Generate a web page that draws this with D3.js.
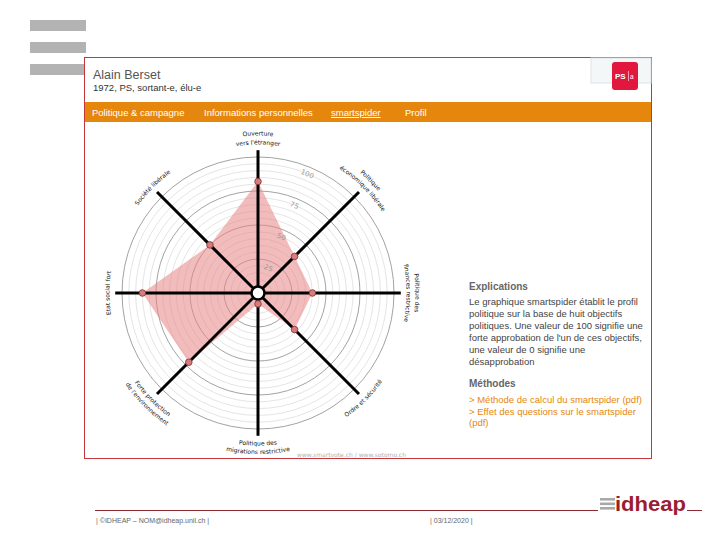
<!DOCTYPE html>
<html>
<head>
<meta charset="utf-8">
<script src="https://cdn.jsdelivr.net/npm/d3@7"></script>
<style>
  body { margin: 0; background: #fff; }
  svg { display: block; }
</style>
</head>
<body>
<svg id="chart" width="720" height="540"></svg>
<script>
// axes of the spider, clockwise from the top
const axisNames = [
  "Ouverture vers l'étranger",
  "Politique économique libérale",
  "Politique des finances restrictive",
  "Ordre et sécurité",
  "Politique des migrations restrictive",
  "Forte protection de l'environnement",
  "Etat social fort",
  "Société libérale"
];
const axisLabelLines = [
  ["Ouverture", "vers l'étranger"],
  ["Politique", "économique libérale"],
  ["Politique des", "finances restrictive"],
  ["Ordre et sécurité"],
  ["Politique des", "migrations restrictive"],
  ["Forte protection", "de l'environnement"],
  ["Etat social fort"],
  ["Société libérale"]
];
const bersetValues = [82, 38, 40, 38, 8, 72, 85, 50];
const ringTicks = [25, 50, 75, 100];
const minorRings = d3.range(5, 101, 5);

const menuItems = ["Politique & campagne", "Informations personnelles", "smartspider", "Profil"];
const explanationLines = [
  "Le graphique smartspider établit le profil",
  "politique sur la base de huit objectifs",
  "politiques. Une valeur de 100 signifie une",
  "forte approbation de l'un de ces objectifs,",
  "une valeur de 0 signifie une",
  "désapprobation"
];
const methodLinks = ["> Méthode de calcul du smartspider (pdf)", "> Effet des questions sur le smartspider", "(pdf)"];

const svg = d3.select('#chart');
const orange = '#e5870c';
const sans = "'Liberation Sans', Arial, sans-serif";

// slide decoration
svg.selectAll('rect.deco')
  .data([20, 42, 64])
  .join('rect')
  .attr('x', 30).attr('y', d => d)
  .attr('width', 56).attr('height', 11)
  .attr('fill', '#b3b3b3');

// screenshot frame
svg.append('rect')
  .attr('x', 84.5).attr('y', 57.5)
  .attr('width', 567).attr('height', 401)
  .attr('fill', '#fff')
  .attr('stroke', '#c3373c')
  .attr('stroke-width', 1);

svg.append('text')
  .attr('x', 93).attr('y', 79)
  .attr('font-family', sans).attr('font-size', 12.5)
  .attr('fill', '#555')
  .text('Alain Berset');
svg.append('text')
  .attr('x', 93).attr('y', 91)
  .attr('font-family', sans).attr('font-size', 9.5)
  .attr('fill', '#333')
  .text('1972, PS, sortant-e, élu-e');

// PS logo
svg.append('rect')
  .attr('x', 591).attr('y', 58).attr('width', 60).attr('height', 25)
  .attr('fill', '#f4f7f8').attr('stroke', '#dde3e6');
svg.append('rect')
  .attr('x', 612).attr('y', 62).attr('width', 26).attr('height', 28)
  .attr('rx', 3)
  .attr('fill', '#e1173d');
svg.append('text')
  .attr('x', 615).attr('y', 79)
  .attr('font-family', sans).attr('font-size', 8).attr('font-weight', 'bold')
  .attr('fill', '#fff')
  .text('PS');
svg.append('line')
  .attr('x1', 628.5).attr('x2', 628.5).attr('y1', 71).attr('y2', 81)
  .attr('stroke', '#fff').attr('stroke-width', 0.6);
svg.append('text')
  .attr('x', 630).attr('y', 79)
  .attr('font-family', sans).attr('font-size', 6.5)
  .attr('fill', '#fff')
  .text('a');

// menu bar
svg.append('rect')
  .attr('x', 85).attr('y', 102).attr('width', 566).attr('height', 20)
  .attr('fill', orange);
const menuX = [92, 204, 331, 405];
svg.selectAll('text.menu')
  .data(menuItems)
  .join('text')
  .attr('class', 'menu')
  .attr('x', (d, i) => menuX[i]).attr('y', 116)
  .attr('font-family', sans).attr('font-size', 9.5)
  .attr('fill', '#fff')
  .attr('text-decoration', d => d === 'smartspider' ? 'underline' : null)
  .text(d => d);

// spider chart
const cx = 258, cy = 293;
const r = d3.scaleLinear().domain([0, 100]).range([0, 136]);
const angle = d3.scalePoint().domain(axisNames).range([0, 2 * Math.PI * 7 / 8]);
const pt = (a, rad) => [cx + rad * Math.sin(a), cy - rad * Math.cos(a)];

const g = svg.append('g');

g.selectAll('circle.minor')
  .data(minorRings)
  .join('circle')
  .attr('cx', cx).attr('cy', cy)
  .attr('r', d => r(d))
  .attr('fill', 'none')
  .attr('stroke', d => ringTicks.includes(d) ? '#8a8a8a' : '#d2d2d2')
  .attr('stroke-width', d => ringTicks.includes(d) ? 0.8 : 0.6);

const polygon = d3.line()
  .x((d, i) => pt(angle(axisNames[i]), r(d))[0])
  .y((d, i) => pt(angle(axisNames[i]), r(d))[1])
  .curve(d3.curveLinearClosed);

g.append('path')
  .datum(bersetValues)
  .attr('d', polygon)
  .attr('fill', '#ea8585')
  .attr('fill-opacity', 0.55)
  .attr('stroke', 'none');

g.selectAll('text.ring')
  .data(ringTicks)
  .join('text')
  .attr('transform', d => {
    const p = pt(Math.PI / 8, r(d) - 7);
    return `translate(${p[0]},${p[1]}) rotate(22.5)`;
  })
  .attr('text-anchor', 'middle')
  .attr('dy', '0.35em')
  .attr('font-family', "'DejaVu Sans', sans-serif").attr('font-size', 7)
  .attr('fill', '#999')
  .text(d => d);

g.selectAll('line.axis')
  .data(axisNames)
  .join('line')
  .attr('x1', cx).attr('y1', cy)
  .attr('x2', d => pt(angle(d), r(105))[0])
  .attr('y2', d => pt(angle(d), r(105))[1])
  .attr('stroke', '#000')
  .attr('stroke-width', 3);

g.append('circle')
  .attr('cx', cx).attr('cy', cy).attr('r', 6.5)
  .attr('fill', '#fff').attr('stroke', '#000').attr('stroke-width', 2.5);

g.selectAll('circle.dot')
  .data(bersetValues)
  .join('circle')
  .attr('cx', (d, i) => pt(angle(axisNames[i]), r(d))[0])
  .attr('cy', (d, i) => pt(angle(axisNames[i]), r(d))[1])
  .attr('r', 3.3)
  .attr('fill', '#d97b7d')
  .attr('stroke', '#7d3234')
  .attr('stroke-width', 0.8);

// axis labels set on arcs
const defs = svg.append('defs');
axisNames.forEach((name, i) => {
  const a = angle(name);
  const lower = a > Math.PI / 2 + 0.01 && a < 3 * Math.PI / 2 - 0.01;
  axisLabelLines[i].forEach((line, j) => {
    let rad;
    if (lower) rad = 152.5 + j * 8.5;
    else rad = axisLabelLines[i].length === 2 ? 157.5 - j * 9 : 148.5;
    const span = 1.0;
    const s = pt(lower ? a + span : a - span, rad);
    const e = pt(lower ? a - span : a + span, rad);
    const id = `lab-${i}-${j}`;
    defs.append('path')
      .attr('id', id)
      .attr('d', `M${s[0]},${s[1]} A${rad},${rad} 0 0 ${lower ? 0 : 1} ${e[0]},${e[1]}`);
    svg.append('text')
      .attr('font-family', "'DejaVu Sans', sans-serif").attr('font-size', 6)
      .attr('fill', '#111')
      .append('textPath')
      .attr('href', `#${id}`)
      .attr('startOffset', '50%')
      .attr('text-anchor', 'middle')
      .text(line);
  });
});

svg.append('text')
  .attr('x', 297).attr('y', 457)
  .attr('font-family', "'DejaVu Sans', sans-serif").attr('font-size', 6)
  .attr('fill', '#b0b0b0')
  .text('www.smartvote.ch / www.sotomo.ch');

// explanation panel
svg.append('text')
  .attr('x', 469).attr('y', 290)
  .attr('font-family', sans).attr('font-size', 10).attr('font-weight', 'bold')
  .attr('fill', '#666')
  .text('Explications');
svg.selectAll('text.expl')
  .data(explanationLines)
  .join('text')
  .attr('x', 469).attr('y', (d, i) => 305 + i * 12)
  .attr('font-family', sans).attr('font-size', 9.5)
  .attr('fill', '#444')
  .text(d => d);
svg.append('text')
  .attr('x', 469).attr('y', 387)
  .attr('font-family', sans).attr('font-size', 10).attr('font-weight', 'bold')
  .attr('fill', '#666')
  .text('Méthodes');
svg.selectAll('text.link')
  .data(methodLinks)
  .join('text')
  .attr('x', 469).attr('y', (d, i) => 403 + i * 11.5)
  .attr('font-family', sans).attr('font-size', 9.5)
  .attr('fill', orange)
  .text(d => d);

// footer
const footRed = '#8c2a35';
svg.append('line')
  .attr('x1', 95).attr('x2', 598).attr('y1', 510.5).attr('y2', 510.5)
  .attr('stroke', footRed).attr('stroke-width', 1);
svg.append('line')
  .attr('x1', 687).attr('x2', 702).attr('y1', 510.5).attr('y2', 510.5)
  .attr('stroke', footRed).attr('stroke-width', 1);
svg.selectAll('rect.logo')
  .data([498, 502.5, 507])
  .join('rect')
  .attr('x', 600).attr('y', d => d)
  .attr('width', 15).attr('height', 2.6)
  .attr('fill', '#a9a9a9');
svg.append('text')
  .attr('x', 615).attr('y', 511)
  .attr('font-family', sans).attr('font-size', 21).attr('font-weight', 'bold')
  .attr('fill', '#9b1d2f')
  .attr('textLength', 71).attr('lengthAdjust', 'spacingAndGlyphs')
  .text('idheap');

svg.append('text')
  .attr('x', 96).attr('y', 523)
  .attr('font-family', sans).attr('font-size', 7)
  .attr('fill', '#666')
  .text('| ©IDHEAP – NOM@idheap.unil.ch |');
svg.append('text')
  .attr('x', 430).attr('y', 523)
  .attr('font-family', sans).attr('font-size', 7)
  .attr('fill', '#666')
  .text('| 03/12/2020 |');
</script>
</body>
</html>
